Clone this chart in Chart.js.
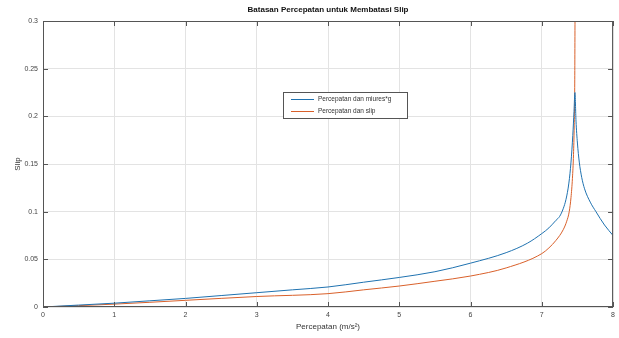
<!DOCTYPE html>
<html>
<head>
<meta charset="utf-8">
<script src="https://cdn.jsdelivr.net/npm/chart.js@4/dist/chart.umd.min.js"></script>
<style>
  html, body { margin: 0; padding: 0; background: #fff; }
  #wrap { width: 619px; height: 338px; }
</style>
</head>
<body>
<div id="wrap"><canvas id="slipChart"></canvas></div>
<script>
// Values
const muX = [0, 0.5, 1, 1.5, 2, 2.5, 3, 3.5, 4, 4.5, 5, 5.5, 6, 6.5, 6.8, 7, 7.1, 7.2, 7.25, 7.3, 7.34, 7.38, 7.41, 7.435, 7.452, 7.465, 7.48, 7.5, 7.526, 7.56, 7.6, 7.68, 7.76, 7.88, 8];
const muY = [0, 0.002, 0.004, 0.0065, 0.009, 0.012, 0.015, 0.018, 0.021, 0.026, 0.031, 0.037, 0.046, 0.057, 0.067, 0.077, 0.083, 0.091, 0.095, 0.103, 0.113, 0.13, 0.152, 0.18, 0.205, 0.225, 0.195, 0.172, 0.152, 0.136, 0.124, 0.11, 0.1, 0.086, 0.075];

const slipX = [0, 1, 2, 3, 4, 4.5, 5, 5.5, 6, 6.5, 7, 7.1, 7.2, 7.3, 7.35, 7.385, 7.41, 7.43, 7.445, 7.455, 7.462, 7.467];
const slipY = [0, 0.003, 0.007, 0.011, 0.014, 0.018, 0.022, 0.027, 0.0325, 0.041, 0.056, 0.062, 0.07, 0.081, 0.09, 0.1, 0.115, 0.135, 0.16, 0.19, 0.23, 0.32];

const xTicks = [0, 1, 2, 3, 4, 5, 6, 7, 8];
const yTicks = [0, 0.05, 0.1, 0.15, 0.2, 0.25, 0.3];

const seriesLabels = ["Percepatan dan miures*g", "Percepatan dan slip"];
const chartTitle = "Batasan Percepatan untuk Membatasi Slip";

const toPoints = (xs, ys) => xs.map((x, i) => ({ x: x, y: ys[i] }));

// MATLAB-like frame, inward ticks, title and legend box
const matlabFrame = {
  id: "matlabFrame",
  afterDraw(chart) {
    const { ctx, chartArea: a, scales } = chart;
    ctx.save();
    ctx.strokeStyle = "#555";
    ctx.lineWidth = 1;
    ctx.strokeRect(a.left + 0.5, a.top + 0.5, a.right - a.left - 1, a.bottom - a.top - 1);

    ctx.beginPath();
    xTicks.forEach((v) => {
      const px = Math.round(scales.x.getPixelForValue(v)) + 0.5;
      ctx.moveTo(px, a.bottom); ctx.lineTo(px, a.bottom - 5);
      ctx.moveTo(px, a.top); ctx.lineTo(px, a.top + 5);
    });
    yTicks.forEach((v) => {
      const py = Math.round(scales.y.getPixelForValue(v)) + 0.5;
      ctx.moveTo(a.left, py); ctx.lineTo(a.left + 5, py);
      ctx.moveTo(a.right, py); ctx.lineTo(a.right - 5, py);
    });
    ctx.stroke();

    // title
    ctx.fillStyle = "#111";
    ctx.font = "bold 8px 'Liberation Sans', Arial, sans-serif";
    ctx.textAlign = "center";
    ctx.textBaseline = "middle";
    ctx.fillText(chartTitle, (a.left + a.right) / 2, 10);

    // legend
    const lx = 283, ly = 92, lw = 124, lh = 26;
    ctx.fillStyle = "#fff";
    ctx.fillRect(lx, ly, lw, lh);
    ctx.strokeStyle = "#555";
    ctx.strokeRect(lx + 0.5, ly + 0.5, lw, lh);
    ctx.font = "6.5px 'Liberation Sans', Arial, sans-serif";
    ctx.textAlign = "left";
    chart.data.datasets.forEach((ds, i) => {
      const y = ly + 7 + i * 12;
      ctx.strokeStyle = ds.borderColor;
      ctx.beginPath();
      ctx.moveTo(lx + 8, y + 0.5); ctx.lineTo(lx + 31, y + 0.5);
      ctx.stroke();
      ctx.fillStyle = "#333";
      ctx.fillText(ds.label, lx + 35, y);
    });
    ctx.restore();
  },
};

const ctx = document.getElementById("slipChart");
new Chart(ctx, {
  type: "line",
  data: {
    datasets: [
      {
        label: seriesLabels[0],
        data: toPoints(muX, muY),
        borderColor: "#1f72b0",
        borderWidth: 1,
        pointRadius: 0,
        cubicInterpolationMode: "monotone",
      },
      {
        label: seriesLabels[1],
        data: toPoints(slipX, slipY),
        borderColor: "#d9602a",
        borderWidth: 1,
        pointRadius: 0,
        cubicInterpolationMode: "monotone",
      },
    ],
  },
  options: {
    responsive: true,
    maintainAspectRatio: false,
    animation: false,
    layout: { padding: { top: 21, right: 2, left: 0, bottom: 0 } },
    plugins: {
      legend: { display: false },
      title: { display: false },
      tooltip: { enabled: false },
    },
    scales: {
      x: {
        type: "linear",
        min: 0,
        max: 8,
        afterBuildTicks: (scale) => { scale.ticks = xTicks.map((v) => ({ value: v })); },
        afterFit: (scale) => { scale.height = 31; },
        grid: { color: "#e3e3e3", drawTicks: false },
        border: { display: false },
        ticks: { color: "#444", font: { size: 7 }, padding: 4 },
        title: {
          display: true,
          text: "Percepatan (m/s²)",
          color: "#333",
          font: { size: 8 },
          padding: { top: 0, bottom: 6 },
        },
      },
      y: {
        min: 0,
        max: 0.3,
        afterBuildTicks: (scale) => { scale.ticks = yTicks.map((v) => ({ value: v })); },
        afterFit: (scale) => { scale.width = 43; },
        grid: { color: "#e3e3e3", drawTicks: false },
        border: { display: false },
        ticks: {
          color: "#444",
          font: { size: 7 },
          padding: 5,
          callback: (v) => String(Math.round(v * 100) / 100),
        },
        title: {
          display: true,
          text: "Slip",
          color: "#333",
          font: { size: 8 },
          padding: { top: 13, bottom: 0 },
        },
      },
    },
  },
  plugins: [matlabFrame],
});
</script>
</body>
</html>
